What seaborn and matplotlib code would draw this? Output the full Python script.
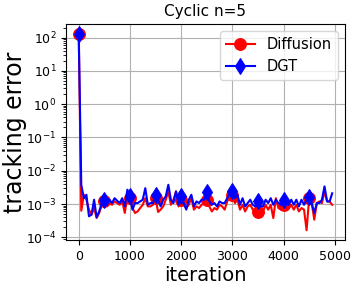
import numpy as np
import matplotlib
matplotlib.use("Agg")
import matplotlib.pyplot as plt
import seaborn as sns

# iterations, sampled every 50 steps
iterations = np.arange(0, 5000, 50)

# tracking error values, in units of 1e-3
diffusion_e3 = [1.3e5, 0.63, 1.9, 1.35, 0.68, 0.48, 0.76, 0.38, 0.54, 0.95,
                1.2, 1.07, 1.07, 0.95, 1.2, 1.07, 0.95, 1.2, 0.54, 1.7,
                1.5, 0.76, 0.54, 0.6, 0.76, 0.95, 1.5, 0.85, 0.85, 0.95,
                1.5, 0.58, 0.68, 0.85, 1.35, 2.4, 0.95, 1.35, 2.4, 0.85,
                1.35, 0.95, 0.76, 0.95, 1.5, 0.68, 0.85, 0.76, 0.95, 1.07,
                1.35, 0.85, 0.6, 0.76, 0.68, 0.95, 0.85, 0.68, 1.2, 1.7,
                1.9, 1.07, 1.35, 0.68, 0.95, 0.6, 0.85, 0.95, 0.68, 0.6,
                0.58, 0.68, 0.6, 0.95, 0.68, 0.95, 0.38, 1.5, 0.76, 0.68,
                0.95, 0.85, 0.76, 0.95, 0.68, 0.95, 0.6, 0.76, 0.68, 0.164,
                1.5, 1.07, 0.34, 1.07, 1.2, 1.07, 2.4, 1.2, 1.2, 0.95]
dgt_e3 = [1.3e5, 3.8, 1.5, 1.9, 0.43, 0.48, 1.35, 0.40, 0.60, 1.07,
          1.35, 0.95, 1.35, 1.07, 1.5, 1.26, 1.07, 1.5, 0.85, 2.7,
          1.7, 0.68, 1.07, 1.07, 1.2, 1.35, 3.0, 0.95, 1.07, 1.07,
          1.9, 1.35, 0.85, 1.35, 1.7, 3.8, 1.35, 1.07, 2.4, 0.95,
          1.7, 1.07, 0.68, 1.35, 1.9, 0.85, 1.2, 1.07, 1.35, 1.35,
          2.3, 1.2, 0.95, 1.07, 0.85, 1.2, 1.07, 1.07, 1.5, 2.1,
          2.5, 1.5, 1.9, 0.95, 1.5, 0.85, 1.07, 1.35, 0.95, 0.85,
          1.26, 0.85, 0.85, 1.35, 1.07, 1.5, 0.95, 1.35, 1.07, 0.95,
          1.35, 1.07, 0.95, 1.35, 0.95, 1.35, 0.85, 1.35, 0.95, 1.35,
          1.58, 1.07, 0.54, 1.07, 1.07, 1.35, 3.4, 1.2, 1.2, 2.1]

diffusion = np.array(diffusion_e3) * 1e-3
dgt = np.array(dgt_e3) * 1e-3

fig = plt.figure(figsize=(3.57, 2.92), dpi=100)
ax = fig.add_axes([0.185, 0.178, 0.781, 0.74])

sns.lineplot(x=iterations, y=diffusion, color="red", marker="o", markersize=8.5,
             markevery=10, markeredgecolor="red", linewidth=1.5,
             label="Diffusion", ax=ax)
sns.lineplot(x=iterations, y=dgt, color="blue", marker="d", markersize=8.5,
             markevery=10, markeredgecolor="blue", linewidth=1.5,
             label="DGT", ax=ax)

ax.set_yscale("log")
ax.grid(True, color="#b0b0b0", linewidth=0.8)
ax.set_axisbelow(True)
ax.set_title("Cyclic n=5", fontsize=11)
ax.set_xlabel("iteration", fontsize=14, labelpad=2)
ax.set_ylabel("tracking error", fontsize=17)
ax.yaxis.set_label_coords(-0.14, 0.5)
ax.tick_params(labelsize=9)
ax.legend(loc="upper right", fontsize=10.5)

fig.savefig("out.png", dpi=100)
